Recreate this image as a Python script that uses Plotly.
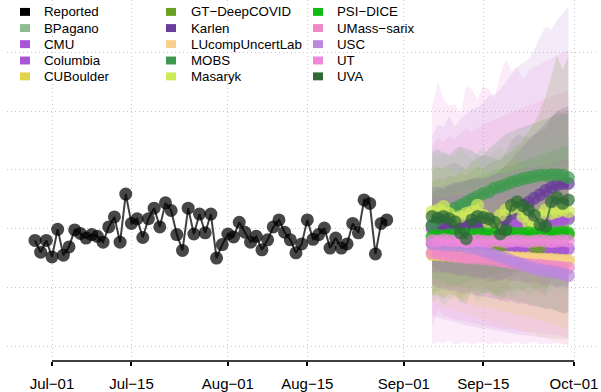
import plotly.graph_objects as go
import pandas as pd
from datetime import datetime, timedelta

# ---------------- data ----------------
reported_dates = pd.date_range("2022-06-28", periods=63, freq="D")
reported = [280, 260, 280, 252, 299, 255, 269, 298, 292, 284, 290, 287, 277, 303, 320, 277,
            359, 309, 317, 285, 317, 335, 303, 344, 331, 290, 263, 335, 291, 325, 293, 325,
            250, 273, 291, 286, 311, 294, 277, 287, 264, 281, 303, 315, 294, 281, 259, 274,
            315, 282, 290, 301, 267, 284, 267, 274, 309, 293, 349, 343, 257, 309, 315]

fc_dates = pd.date_range("2022-09-06", periods=25, freq="D")

models = ["BPagano", "CMU", "Columbia", "CUBoulder", "GT\u2212DeepCOVID", "Karlen",
          "LUcompUncertLab", "MOBS", "Masaryk", "PSI\u2212DICE", "UMass\u2212sarix",
          "USC", "UT", "UVA"]
colors = ["#8fbc8f", "#a855d6", "#a855d6", "#e0d44a", "#6aa121", "#6a3d9a",
          "#f8d08c", "#3f9a4f", "#cdea57", "#11bb11", "#ee88c8",
          "#bb88dd", "#ee88dd", "#2d6a34"]

median = {
    "BPagano": [306, 304, 308, 305, 309, 306, 310, 307, 311, 308, 309, 312, 310, 313, 311, 314, 312, 315, 313, 316, 314, 317, 315, 318, 316],
    "CMU": [276, 275, 274, 273, 274, 272, 273, 272, 271, 272, 270, 271, 270, 269, 270, 268, 269, 268, 267, 268, 266, 267, 266, 265, 266],
    "Columbia": [300, 302, 303, 301, 305, 304, 306, 303, 305, 304, 306, 305, 303, 305, 307, 309, 308, 310, 312, 311, 313, 315, 314, 316, 318],
    "CUBoulder": [256, 256, 255, 255, 254, 254, 253, 253, 253, 252, 252, 252, 251, 251, 251, 250, 250, 250, 249, 249, 248, 248, 247, 246, 245],
    "GT\u2212DeepCOVID": [283, 282, 284, 280, 270, 268, 282, 285, 284, 283, 281, 270, 266, 283, 286, 285, 284, 282, 270, 268, 284, 287, 288, 289, 290],
    "Karlen": [304, 303, 301, 303, 304, 306, 308, 308, 306, 306, 306, 308, 311, 318, 326, 333, 340, 345, 352, 358, 365, 370, 375, 377, 377],
    "LUcompUncertLab": [258, 257, 257, 256, 255, 255, 254, 254, 253, 253, 252, 252, 251, 251, 250, 250, 249, 249, 248, 248, 247, 247, 246, 246, 246],
    "MOBS": [306, 316, 323, 328, 335, 340, 345, 350, 355, 360, 363, 369, 372, 375, 379, 382, 385, 387, 389, 391, 391, 392, 392, 391, 387],
    "Masaryk": [329, 332, 338, 326, 318, 321, 326, 329, 340, 323, 309, 307, 323, 332, 335, 338, 321, 309, 307, 323, 332, 326, 329, 332, 329],
    "PSI\u2212DICE": [287, 289, 288, 290, 289, 290, 291, 290, 291, 292, 291, 292, 291, 292, 293, 292, 292, 293, 292, 293, 294, 293, 293, 294, 293],
    "UMass\u2212sarix": [259, 258, 256, 255, 253, 252, 251, 250, 250, 249, 248, 247, 245, 244, 242, 241, 240, 239, 238, 238, 237, 236, 235, 234, 233],
    "USC": [274, 274, 272, 272, 271, 271, 269, 267, 266, 262, 259, 255, 252, 249, 245, 242, 239, 235, 232, 230, 228, 227, 225, 223, 220],
    "UT": [280, 279, 281, 280, 279, 280, 278, 279, 280, 279, 278, 280, 279, 278, 279, 280, 279, 278, 279, 280, 279, 278, 279, 280, 279],
    "UVA": [321, 318, 321, 317, 312, 293, 283, 315, 321, 319, 317, 311, 291, 298, 340, 346, 339, 332, 323, 307, 304, 346, 353, 343, 349],
}

upper = {
    "BPagano": [425, 418, 432, 428, 420, 436, 426, 418, 430, 438, 424, 432, 440, 428, 436, 444, 432, 448, 440, 452, 444, 458, 450, 462, 455],
    "CMU": [350, 354, 352, 357, 355, 360, 358, 363, 361, 366, 364, 369, 367, 372, 370, 375, 373, 378, 376, 381, 379, 384, 382, 387, 385],
    "Columbia": [365, 370, 372, 375, 380, 378, 382, 385, 388, 386, 390, 392, 395, 394, 398, 400, 402, 405, 404, 408, 410, 412, 415, 418, 420],
    "CUBoulder": [330, 332, 334, 335, 336, 338, 340, 342, 344, 345, 346, 348, 350, 352, 354, 355, 356, 358, 360, 362, 364, 365, 366, 368, 370],
    "GT\u2212DeepCOVID": [380, 385, 382, 390, 388, 395, 392, 400, 405, 402, 410, 415, 420, 425, 430, 440, 450, 465, 480, 500, 525, 560, 595, 570, 595],
    "Karlen": [370, 372, 368, 375, 378, 380, 382, 385, 384, 386, 388, 392, 398, 408, 418, 430, 440, 450, 460, 470, 480, 490, 500, 505, 510],
    "LUcompUncertLab": [350, 356, 354, 360, 358, 364, 368, 366, 372, 375, 373, 378, 382, 380, 386, 390, 388, 394, 398, 396, 402, 406, 404, 410, 414],
    "MOBS": [431, 436, 428, 424, 436, 440, 436, 433, 426, 424, 436, 445, 453, 461, 466, 470, 473, 477, 480, 483, 487, 490, 494, 495, 495],
    "Masaryk": [405, 402, 410, 400, 395, 398, 405, 408, 415, 405, 390, 388, 405, 412, 418, 420, 410, 395, 392, 410, 418, 412, 416, 420, 418],
    "PSI\u2212DICE": [360, 366, 367, 373, 374, 379, 381, 386, 387, 393, 394, 399, 401, 406, 407, 413, 414, 419, 421, 426, 427, 433, 434, 439, 441],
    "UMass\u2212sarix": [440, 455, 448, 458, 452, 462, 470, 464, 472, 478, 482, 486, 490, 494, 498, 502, 505, 510, 514, 518, 521, 525, 528, 532, 535],
    "USC": [458, 478, 473, 492, 473, 487, 495, 504, 507, 515, 526, 529, 537, 549, 563, 575, 583, 588, 605, 627, 644, 639, 656, 667, 678],
    "UT": [509, 551, 521, 509, 512, 495, 543, 537, 521, 543, 537, 521, 563, 588, 568, 576, 554, 570, 575, 580, 585, 590, 595, 600, 605],
    "UVA": [400, 405, 402, 410, 412, 408, 400, 415, 420, 425, 422, 420, 415, 430, 450, 460, 458, 456, 460, 465, 470, 490, 500, 498, 502],
}

lower = {
    "BPagano": [175, 182, 170, 178, 186, 172, 180, 188, 176, 184, 192, 178, 186, 194, 182, 190, 198, 184, 192, 200, 188, 196, 204, 192, 200],
    "CMU": [205, 200, 198, 194, 196, 190, 192, 188, 185, 186, 182, 181, 179, 176, 177, 172, 173, 170, 167, 168, 163, 165, 161, 156, 159],
    "Columbia": [225, 226, 224, 228, 222, 220, 226, 218, 220, 216, 218, 214, 212, 216, 210, 212, 208, 206, 210, 205, 203, 206, 200, 202, 198],
    "CUBoulder": [190, 188, 184, 183, 180, 178, 174, 172, 168, 167, 166, 164, 160, 158, 156, 154, 152, 150, 146, 144, 142, 139, 136, 132, 128],
    "GT\u2212DeepCOVID": [185, 188, 180, 190, 186, 182, 188, 192, 186, 190, 194, 188, 190, 196, 192, 198, 194, 200, 196, 202, 198, 204, 200, 206, 202],
    "Karlen": [235, 230, 226, 225, 222, 220, 220, 218, 215, 213, 210, 210, 212, 216, 220, 225, 230, 232, 235, 238, 240, 242, 244, 245, 245],
    "LUcompUncertLab": [175, 170, 168, 164, 162, 158, 156, 152, 149, 146, 144, 140, 137, 134, 131, 128, 125, 122, 119, 116, 113, 110, 107, 104, 101],
    "MOBS": [190, 194, 196, 200, 202, 206, 208, 211, 214, 216, 219, 222, 224, 226, 228, 230, 232, 234, 235, 237, 238, 239, 240, 241, 242],
    "Masaryk": [235, 242, 248, 236, 225, 228, 234, 238, 250, 230, 212, 208, 226, 236, 240, 242, 228, 212, 206, 222, 232, 228, 230, 234, 230],
    "PSI\u2212DICE": [215, 212, 210, 206, 205, 201, 200, 196, 195, 191, 190, 186, 185, 181, 180, 176, 175, 171, 170, 166, 165, 161, 160, 156, 155],
    "UMass\u2212sarix": [132, 162, 152, 149, 146, 144, 141, 139, 137, 135, 134, 132, 130, 129, 127, 127, 125, 124, 124, 122, 120, 120, 118, 117, 115],
    "USC": [152, 149, 146, 144, 141, 139, 135, 134, 132, 130, 129, 127, 125, 124, 122, 120, 118, 118, 117, 115, 115, 113, 113, 112, 112],
    "UT": [103, 107, 105, 109, 103, 105, 107, 103, 105, 107, 103, 105, 107, 103, 105, 107, 103, 105, 107, 103, 105, 103, 105, 103, 102],
    "UVA": [205, 200, 206, 196, 192, 178, 170, 200, 206, 200, 196, 190, 176, 184, 212, 218, 214, 208, 200, 190, 186, 216, 220, 214, 218],
}

tick_dates = ["2022-07-01", "2022-07-15", "2022-08-01", "2022-08-15",
              "2022-09-01", "2022-09-15", "2022-10-01"]
tick_labels = ["Jul\u221201", "Jul\u221215", "Aug\u221201", "Aug\u221215",
               "Sep\u221201", "Sep\u221215", "Oct\u221201"]
grid_y = [100, 200, 300, 400, 500, 600]

# ---------------- styling helpers ----------------
def rgba(hexc, a):
    h = hexc.lstrip("#")
    r, g, b = int(h[0:2], 16), int(h[2:4], 16), int(h[4:6], 16)
    return f"rgba({r},{g},{b},{a})"

FONT = "Liberation Sans, Arial, Helvetica, sans-serif"
W, H = 601, 392
ML, MR, MT, MB = 7, 3, 0, 28
PW, PH = W - ML - MR, H - MT - MB

fig = go.Figure()

fc_list = list(fc_dates)
# bands: widest (pink / lavender) first so the greener bands sit on top
for m, c in list(zip(models, colors))[::-1]:
    fig.add_trace(go.Scatter(
        x=fc_list + fc_list[::-1],
        y=upper[m] + lower[m][::-1],
        fill="toself", fillcolor=rgba(c, 0.17),
        line=dict(width=0), mode="lines", hoverinfo="skip", showlegend=False))

for m, c in zip(models, colors):
    fig.add_trace(go.Scatter(
        x=fc_dates, y=median[m], mode="lines+markers",
        line=dict(color=rgba(c, 0.72), width=2),
        marker=dict(size=13, color=rgba(c, 0.72), line=dict(width=0)),
        name=m, showlegend=False))

fig.add_trace(go.Scatter(
    x=reported_dates, y=reported, mode="lines+markers",
    line=dict(color="rgba(0,0,0,0.75)", width=2),
    marker=dict(size=13, color="rgba(0,0,0,0.72)", line=dict(width=0)),
    name="Reported", showlegend=False))

# x range from the pixel geometry of the reference
base = datetime(2022, 7, 1)
ppd = 5.674  # pixels per day
x0 = base + timedelta(days=(ML - 52) / ppd)
x1 = base + timedelta(days=(W - MR - 52) / ppd)

fig.update_layout(
    width=W, height=H,
    margin=dict(l=ML, r=MR, t=MT, b=MB, pad=0),
    paper_bgcolor="white", plot_bgcolor="white",
    font=dict(family=FONT, color="black"),
    showlegend=False,
    xaxis=dict(type="date", range=[x0, x1],
               tickvals=tick_dates, ticktext=tick_labels,
               ticks="outside", ticklen=4, tickwidth=1.5, tickcolor="black",
               ticklabelstandoff=5,
               tickfont=dict(size=15, family=FONT, color="black"),
               showgrid=True, gridcolor="#c8c8c8", griddash="1px,3px", gridwidth=1,
               showline=False, zeroline=False, fixedrange=True),
    yaxis=dict(range=[74.7, 689.5], tickvals=grid_y, showticklabels=False,
               ticks="", showgrid=True, gridcolor="#c8c8c8", griddash="1px,3px",
               gridwidth=1, showline=False, zeroline=False),
)

fig.add_shape(type="line", xref="x", yref="paper",
              x0=tick_dates[0], x1=tick_dates[-1], y0=0, y1=0,
              line=dict(color="black", width=1.5))

# ---------------- manual legend (3 columns, column-major) ----------------
leg_names = ["Reported"] + models
leg_colors = ["#000000"] + colors
col_box_x = [20, 166, 313]
col_text_x = [42, 189, 335]
row_y = [12, 28.3, 44.5, 61, 77]

def px2paper_x(px):
    return (px - ML) / PW

def px2paper_y(py):
    return 1 - (py - MT) / PH

for i, (n, c) in enumerate(zip(leg_names, leg_colors)):
    col, row = divmod(i, 5)
    bx, tx, ry = col_box_x[col], col_text_x[col], row_y[row]
    fig.add_shape(type="rect", xref="paper", yref="paper",
                  x0=px2paper_x(bx), x1=px2paper_x(bx + 10),
                  y0=px2paper_y(ry + 4), y1=px2paper_y(ry - 4),
                  fillcolor=c, line=dict(width=0))
    fig.add_annotation(xref="paper", yref="paper", x=px2paper_x(tx), y=px2paper_y(ry),
                       text=n, showarrow=False, xanchor="left", yanchor="middle",
                       font=dict(size=13.3, family=FONT, color="black"))

fig.write_html("out.html", config={"displayModeBar": False},
               post_script="document.body.style.margin='0';document.body.style.overflow='hidden';")
